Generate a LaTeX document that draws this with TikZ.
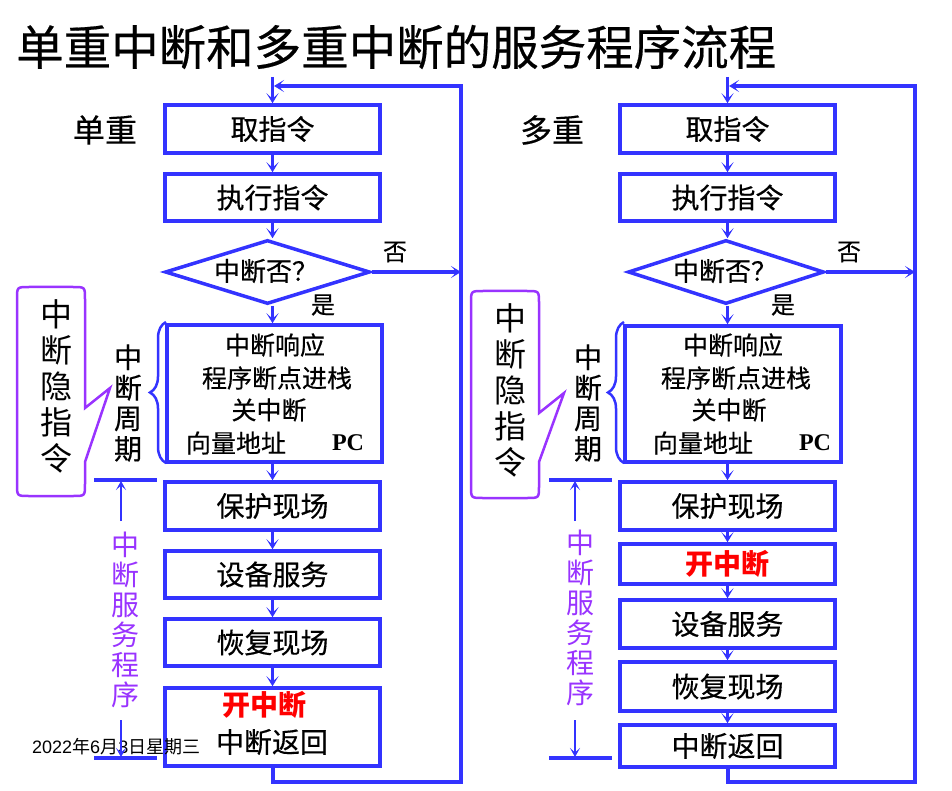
\documentclass[tikz,border=0pt]{standalone}
\usepackage{fontspec}
\setmainfont{Noto Sans CJK SC}
\newfontface\medfont{Noto Sans CJK SC}[FakeBold=0.4]
\newfontfamily\latinsans{Liberation Sans}
\newfontfamily\pcfont{Liberation Serif}
\usetikzlibrary{shapes.geometric,arrows.meta,decorations.pathreplacing}
\definecolor{bl}{RGB}{51,51,255}
\definecolor{pu}{RGB}{153,51,255}
\definecolor{rd}{RGB}{255,0,0}
\tikzset{
  box/.style={draw=bl,line width=3.5pt,minimum width=215pt,inner sep=0pt,font=\medfont\fontsize{28}{28}\selectfont},
  dia/.style={diamond,draw=bl,line width=3.5pt,inner sep=0pt},
  arr/.style={draw=bl,line width=3.5pt,-{Stealth[length=10pt,width=12pt,inset=5.5pt]}},
  looparr/.style={draw=bl,line width=4pt,-{Stealth[length=10pt,width=12pt,inset=5.5pt]}},
  thinarr/.style={draw=bl,line width=2pt,-{Stealth[length=9pt,width=10pt,inset=4.5pt]}},
  bar/.style={draw=bl,line width=4pt},
  callout/.style={draw=pu,line width=2.5pt,line join=miter},
  bracestyle/.style={draw=bl,line width=2.5pt,decorate,decoration={brace,amplitude=16pt,aspect=0.5}},
  inner/.style={font=\medfont\fontsize{25}{25}\selectfont,inner sep=0pt},
  lab/.style={font=\medfont\fontsize{24}{24}\selectfont,inner sep=0pt},
  vlab/.style={align=center,font=\medfont\fontsize{28}{30.5}\selectfont,inner sep=0pt},
  plab/.style={align=center,text=pu,font=\fontsize{28}{30}\selectfont,inner sep=0pt},
  clab/.style={align=center,font=\fontsize{32}{36}\selectfont,inner sep=0pt},
  pcstyle/.style={font=\pcfont\bfseries\fontsize{24}{24}\selectfont,inner sep=0pt},
  redtxt/.style={text=rd,font=\bfseries\fontsize{28}{28}\selectfont,inner sep=0pt},
}
\begin{document}
\begin{tikzpicture}[x=1pt,y=-1pt]
\useasboundingbox (0,0) rectangle (952,791);
\fill[white] (0,0) rectangle (952,791);

% title
\node[anchor=west,inner sep=0pt,font=\medfont\fontsize{47.5}{47.5}\selectfont] (title) at (16,47) {单重中断和多重中断的服务程序流程};

% ================= left: single =================
\node[font=\medfont\fontsize{32}{32}\selectfont,inner sep=0pt] (lsingle) at (105,130) {单重};
\node[box,minimum height=48pt] (a1) at (272.5,129) {取指令};
\node[box,minimum height=47pt] (a2) at (272.5,197.5) {执行指令};
\node[dia,minimum width=205pt,minimum height=64pt] (ad) at (267.5,272) {};
\node[font=\medfont\fontsize{26}{26}\selectfont,inner sep=0pt] (adt) at (266,271) {中断否？};
\node[lab] (ano) at (395,252) {否};
\node[lab] (ayes) at (323,305) {是};
\node[box,minimum height=137pt] (a3) at (274.5,393.5) {};
\node[inner] (a3t1) at (275,345) {中断响应};
\node[inner] (a3t2) at (277,378) {程序断点进栈};
\node[inner] (a3t3) at (269,410) {关中断};
\node[inner] (a3t4) at (236,443) {向量地址};
\node[pcstyle] (a3pc) at (348,443) {PC};
\node[box,minimum height=48pt] (a4) at (272.5,506) {保护现场};
\node[box,minimum height=47pt] (a5) at (272.5,574.5) {设备服务};
\node[box,minimum height=47pt] (a6) at (272.5,642.5) {恢复现场};
\node[box,minimum height=78pt] (a7) at (272.5,727) {};
\node[redtxt] (a7t1) at (264,705) {开中断};
\node[font=\medfont\fontsize{28}{28}\selectfont,inner sep=0pt] (a7t2) at (272,742) {中断返回};

\coordinate (aTR) at (461,86);
\coordinate (aTL) at (274,86);
\coordinate (aTop) at (272.5,77);
\coordinate (aBR) at (461,782);

\draw[arr] (aTop) -- (a1.north);
\draw[arr] (a1.south) -- (a2.north);
\draw[arr] (a2.south) -- (ad.north -| a2.south);
\draw[arr] (ad.south -| a1.south) -- (a3.north -| a1.south);
\draw[arr] (a3.south -| a1.south) -- (a4.north);
\draw[arr] (a4.south) -- (a5.north);
\draw[arr] (a5.south) -- (a6.north);
\draw[arr] (a6.south) -- (a7.north);
\draw[looparr] (a7.south) -- (a7.south |- aBR) -- (aBR) -- (aTR) -- (aTL);
\draw[arr] (ad.east) -- (ad.east -| aTR);

% brace and side labels
\draw[bracestyle] (166,463) -- (166,322);
\node[vlab] (acyc) at (128,403) {中\\断\\周\\期};

\draw[callout] (85,408) -- (85,299) .. controls (85,287) .. (73,287) -- (29,287) .. controls (17,287) .. (17,299) -- (17,484) .. controls (17,496) .. (29,496) -- (73,496) .. controls (85,496) .. (85,484) -- (85,462) -- (110,388) -- cycle;
\node[clab] (acall) at (56,386) {中\\断\\隐\\指\\令};

\node[anchor=west,inner sep=0pt,font=\fontsize{18}{18}\selectfont] (date) at (32,747) {{\latinsans 2022}年{\latinsans 6}月{\latinsans 3}日星期三};

\coordinate (abar1L) at (94,480);
\coordinate (abar1R) at (157,480);
\coordinate (abar2L) at (94,758);
\coordinate (abar2R) at (157,758);
\coordinate (aup1) at (121,521);
\coordinate (aup2) at (121,481);
\coordinate (adn1) at (121,720);
\coordinate (adn2) at (121,757);
\draw[bar] (abar1L) -- (abar1R);
\draw[bar] (abar2L) -- (abar2R);
\draw[thinarr] (aup1) -- (aup2);
\draw[thinarr] (adn1) -- (adn2);
\node[plab] (aisr) at (125,620) {中\\断\\服\\务\\程\\序};

% ================= right: multiple =================
\node[font=\medfont\fontsize{32}{32}\selectfont,inner sep=0pt] (lmulti) at (552,130) {多重};
\node[box,minimum height=48pt] (b1) at (727.5,129) {取指令};
\node[box,minimum height=47pt] (b2) at (727.5,197.5) {执行指令};
\node[dia,minimum width=196pt,minimum height=64pt] (bd) at (726,272) {};
\node[font=\medfont\fontsize{26}{26}\selectfont,inner sep=0pt] (bdt) at (725,271) {中断否？};
\node[lab] (bno) at (849,252) {否};
\node[lab] (byes) at (783,305) {是};
\node[box,minimum height=136pt,minimum width=216pt] (b3) at (733,394) {};
\node[inner] (b3t1) at (733,345) {中断响应};
\node[inner] (b3t2) at (736,378) {程序断点进栈};
\node[inner] (b3t3) at (729,410) {关中断};
\node[inner] (b3t4) at (703,443) {向量地址};
\node[pcstyle] (b3pc) at (815,443) {PC};
\node[box,minimum height=48pt] (b4) at (727.5,506) {保护现场};
\node[box,minimum height=40pt,font=\bfseries\fontsize{28}{28}\selectfont,text=rd] (b5) at (727.5,564) {开中断};
\node[box,minimum height=48pt] (b6) at (727.5,624) {设备服务};
\node[box,minimum height=49pt] (b7) at (727.5,686.5) {恢复现场};
\node[box,minimum height=42pt] (b8) at (727.5,746) {中断返回};

\coordinate (bTR) at (915,86);
\coordinate (bTL) at (729,86);
\coordinate (bTop) at (727.5,77);
\coordinate (bBR) at (915,782);

\draw[arr] (bTop) -- (b1.north);
\draw[arr] (b1.south) -- (b2.north);
\draw[arr] (b2.south) -- (bd.north -| b2.south);
\draw[arr] (bd.south -| b1.south) -- (b3.north -| b1.south);
\draw[arr] (b3.south -| b1.south) -- (b4.north);
\draw[arr] (b4.south) -- (b5.north);
\draw[arr] (b5.south) -- (b6.north);
\draw[arr] (b6.south) -- (b7.north);
\draw[arr] (b7.south) -- (b8.north);
\draw[looparr] (b8.south) -- (b8.south |- bBR) -- (bBR) -- (bTR) -- (bTL);
\draw[arr] (bd.east) -- (bd.east -| bTR);

\draw[bracestyle] (624,463) -- (624,322);
\node[vlab] (bcyc) at (588,403) {中\\断\\周\\期};

\draw[callout] (539,413) -- (539,303) .. controls (539,291) .. (527,291) -- (483,291) .. controls (471,291) .. (471,303) -- (471,486) .. controls (471,498) .. (483,498) -- (527,498) .. controls (539,498) .. (539,486) -- (539,462) -- (564,393) -- cycle;
\node[clab] (bcall) at (510,390) {中\\断\\隐\\指\\令};

\coordinate (bbar1L) at (549,480);
\coordinate (bbar1R) at (612,480);
\coordinate (bbar2L) at (549,758);
\coordinate (bbar2R) at (612,758);
\coordinate (bup1) at (575,521);
\coordinate (bup2) at (575,481);
\coordinate (bdn1) at (575,720);
\coordinate (bdn2) at (575,757);
\draw[bar] (bbar1L) -- (bbar1R);
\draw[bar] (bbar2L) -- (bbar2R);
\draw[thinarr] (bup1) -- (bup2);
\draw[thinarr] (bdn1) -- (bdn2);
\node[plab] (bisr) at (580,618) {中\\断\\服\\务\\程\\序};
\end{tikzpicture}
\end{document}
